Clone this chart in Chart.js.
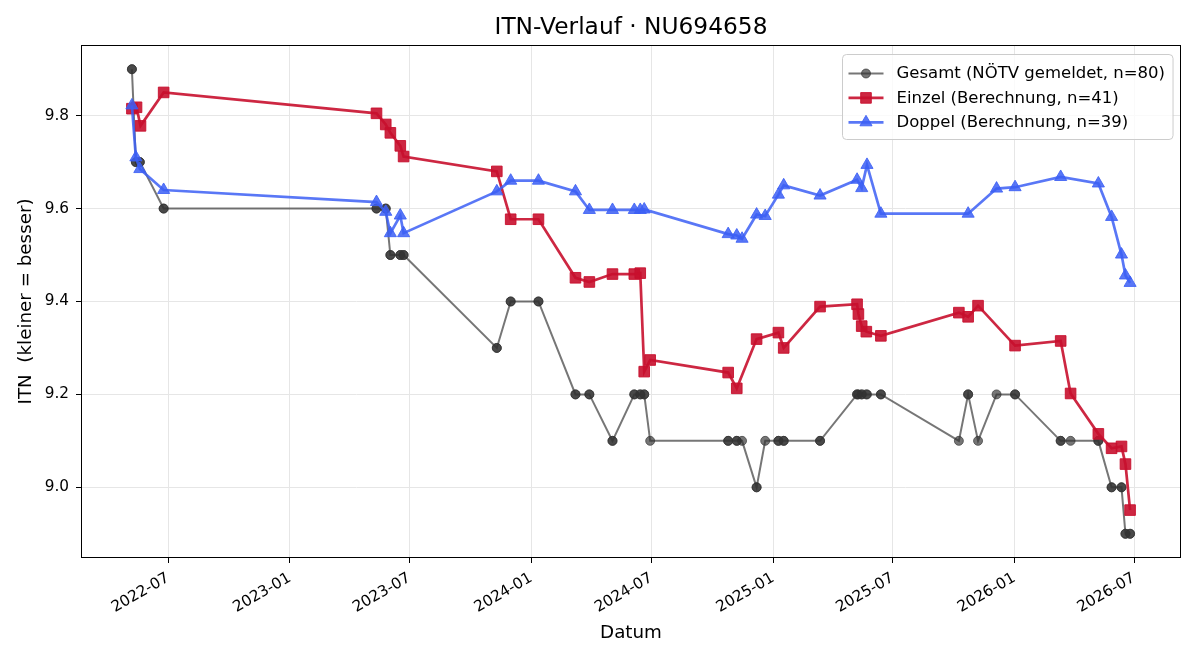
<!DOCTYPE html>
<html>
<head>
<meta charset="utf-8">
<script src="https://cdn.jsdelivr.net/npm/chart.js@4.4.1/dist/chart.umd.min.js"></script>
<style>
html,body{margin:0;padding:0;background:#fff;}
#wrap{width:1200px;height:660px;position:relative;}
</style>
</head>
<body>
<div id="wrap"><canvas id="c" width="1200" height="660"></canvas></div>
<script>
// ---------- DATA ----------
const chartTitle = 'ITN-Verlauf · NU694658';
const xAxisTitle = 'Datum';
const yAxisTitle = 'ITN  (kleiner = besser)';

const gesamtDates = [
 '2022-05-07','2022-05-07','2022-05-13','2022-05-13','2022-05-19','2022-05-19','2022-06-24','2022-06-24',
 '2023-05-12','2023-05-12','2023-05-26','2023-05-26','2023-06-02','2023-06-02','2023-06-17','2023-06-17','2023-06-22','2023-06-22',
 '2023-11-10','2023-11-10','2023-12-01','2023-12-01','2024-01-12','2024-01-12',
 '2024-03-08','2024-03-08','2024-03-29','2024-03-29','2024-05-03','2024-05-03',
 '2024-06-05','2024-06-05','2024-06-14','2024-06-14','2024-06-20','2024-06-20','2024-06-29',
 '2024-10-25','2024-10-25','2024-11-07','2024-11-07','2024-11-15',
 '2024-12-07','2024-12-07','2024-12-20',
 '2025-01-09','2025-01-09','2025-01-17','2025-01-17','2025-03-13','2025-03-13',
 '2025-05-08','2025-05-08','2025-05-10','2025-05-15','2025-05-15','2025-05-22','2025-05-23',
 '2025-06-13','2025-06-13',
 '2025-10-09','2025-10-23','2025-10-23','2025-11-07','2025-12-05',
 '2026-01-02','2026-01-02','2026-03-12','2026-03-12','2026-03-27',
 '2026-05-08','2026-05-08','2026-05-28','2026-05-28','2026-06-12','2026-06-12','2026-06-18','2026-06-18','2026-06-25','2026-06-25'
];
const gesamtValues = [
 9.9,9.9, 9.7,9.7, 9.7,9.7, 9.6,9.6,
 9.6,9.6, 9.6,9.6, 9.5,9.5, 9.5,9.5, 9.5,9.5,
 9.3,9.3, 9.4,9.4, 9.4,9.4,
 9.2,9.2, 9.2,9.2, 9.1,9.1,
 9.2,9.2, 9.2,9.2, 9.2,9.2, 9.1,
 9.1,9.1, 9.1,9.1, 9.1,
 9.0,9.0, 9.1,
 9.1,9.1, 9.1,9.1, 9.1,9.1,
 9.2,9.2, 9.2, 9.2,9.2, 9.2,9.2,
 9.2,9.2,
 9.1, 9.2,9.2, 9.1, 9.2,
 9.2,9.2, 9.1,9.1, 9.1,
 9.1,9.1, 9.0,9.0, 9.0,9.0, 8.9,8.9, 8.9,8.9
];

const einzelDates = [
 '2022-05-07','2022-05-14','2022-05-20','2022-06-24',
 '2023-05-12','2023-05-26','2023-06-02','2023-06-17','2023-06-22',
 '2023-11-10','2023-12-01','2024-01-12','2024-03-08','2024-03-29','2024-05-03',
 '2024-06-05','2024-06-14','2024-06-20','2024-06-29',
 '2024-10-25','2024-11-07','2024-12-07','2025-01-09','2025-01-17','2025-03-13',
 '2025-05-08','2025-05-10','2025-05-15','2025-05-22','2025-06-13',
 '2025-10-09','2025-10-23','2025-11-07','2026-01-02','2026-03-12','2026-03-27',
 '2026-05-08','2026-05-28','2026-06-12','2026-06-18','2026-06-25'
];
const einzelValues = [
 9.815,9.818,9.778,9.850,
 9.805,9.781,9.763,9.735,9.712,
 9.680,9.577,9.577,9.451,9.442,9.459,
 9.459,9.461,9.249,9.274,
 9.247,9.213,9.319,9.333,9.300,9.389,
 9.394,9.373,9.347,9.335,9.326,
 9.376,9.367,9.391,9.305,9.315,9.202,
 9.115,9.084,9.088,9.050,8.951
];

const doppelDates = [
 '2022-05-07','2022-05-13','2022-05-19','2022-06-24',
 '2023-05-12','2023-05-26','2023-06-02','2023-06-17','2023-06-22',
 '2023-11-10','2023-12-01','2024-01-12','2024-03-08','2024-03-29','2024-05-03',
 '2024-06-05','2024-06-14','2024-06-20',
 '2024-10-25','2024-11-07','2024-11-15','2024-12-07','2024-12-20',
 '2025-01-09','2025-01-17','2025-03-13','2025-05-08','2025-05-15','2025-05-23','2025-06-13',
 '2025-10-23','2025-12-05','2026-01-02','2026-03-12',
 '2026-05-08','2026-05-28','2026-06-12','2026-06-18','2026-06-25'
];
const doppelValues = [
 9.822,9.710,9.685,9.640,
 9.614,9.593,9.547,9.585,9.547,
 9.637,9.660,9.660,9.637,9.597,9.597,
 9.597,9.597,9.598,
 9.545,9.542,9.535,9.587,9.584,
 9.630,9.650,9.628,9.662,9.644,9.694,9.589,
 9.589,9.643,9.646,9.668,
 9.654,9.582,9.501,9.456,9.440
];

const xTickLabels = ['2022-07','2023-01','2023-07','2024-01','2024-07','2025-01','2025-07','2026-01','2026-07'];
const yTickValues = [9.0, 9.2, 9.4, 9.6, 9.8];

// ---------- HELPERS ----------
function toMs(s){ const p = s.split('-').map(Number); return Date.UTC(p[0], p[1]-1, p[2] || 1); }
function pts(dates, vals){ return dates.map((d,i)=>({x: toMs(d), y: vals[i]})); }

const allX = [].concat(gesamtDates, einzelDates, doppelDates).map(toMs);
const allY = [].concat(gesamtValues, einzelValues, doppelValues);
const xMinD = Math.min(...allX), xMaxD = Math.max(...allX);
const yMinD = Math.min(...allY), yMaxD = Math.max(...allY);
const xPad = (xMaxD - xMinD) * 0.05, yPad = (yMaxD - yMinD) * 0.05;

const FONT = "'DejaVu Sans', 'Liberation Sans', sans-serif";
Chart.defaults.font.family = FONT;
Chart.defaults.color = '#000';

const GRAY = 'rgba(51,51,51,0.67)';
const RED = 'rgba(200,16,46,0.9)';
const BLUE = 'rgba(60,95,245,0.85)';

const TICK_FS = 15.3, LEGEND_FS = 16.5, LABEL_FS = 18.3, TITLE_FS = 23.3;

function drawMarker(ctx, style, x, y, r){
  ctx.beginPath();
  if (style === 'circle') { ctx.arc(x, y, r, 0, Math.PI*2); }
  else if (style === 'rect') { const s = r*Math.SQRT1_2; ctx.rect(x-s, y-s, 2*s, 2*s); }
  else if (style === 'triangle') {
    ctx.moveTo(x, y - r);
    ctx.lineTo(x + 0.866*r, y + 0.5*r);
    ctx.lineTo(x - 0.866*r, y + 0.5*r);
    ctx.closePath();
  }
  ctx.fill(); ctx.stroke();
}

const framePlugin = {
  id: 'frameAndLegend',
  afterDatasetsDraw(chart){
    const {ctx, chartArea: a} = chart;
    ctx.save();
    // frame
    ctx.strokeStyle = '#000'; ctx.lineWidth = 1;
    const L = Math.round(a.left) - 0.5, T = Math.round(a.top) - 0.5;
    const R = Math.round(a.right) + 0.5, B = Math.round(a.bottom) + 0.5;
    ctx.strokeRect(L, T, R - L, B - T);
    // legend
    ctx.font = LEGEND_FS + 'px ' + FONT;
    const items = chart.data.datasets;
    let maxW = 0;
    items.forEach(ds => { maxW = Math.max(maxW, ctx.measureText(ds.label).width); });
    const boxW = 54 + maxW + 8;
    const boxH = 85;
    const bx = Math.round(a.right - 7 - boxW) + 0.5;
    const by = Math.round(a.top + 8) + 0.5;
    const rr = 4;
    ctx.beginPath();
    ctx.moveTo(bx + rr, by);
    ctx.lineTo(bx + boxW - rr, by); ctx.arcTo(bx + boxW, by, bx + boxW, by + rr, rr);
    ctx.lineTo(bx + boxW, by + boxH - rr); ctx.arcTo(bx + boxW, by + boxH, bx + boxW - rr, by + boxH, rr);
    ctx.lineTo(bx + rr, by + boxH); ctx.arcTo(bx, by + boxH, bx, by + boxH - rr, rr);
    ctx.lineTo(bx, by + rr); ctx.arcTo(bx, by, bx + rr, by, rr);
    ctx.closePath();
    ctx.fillStyle = 'rgba(255,255,255,0.8)'; ctx.fill();
    ctx.strokeStyle = '#cccccc'; ctx.lineWidth = 1; ctx.stroke();
    items.forEach((ds, i) => {
      const cy = by + 19 + i * 24.4;
      const x0 = bx + 6, x1 = bx + 41;
      ctx.strokeStyle = ds.borderColor; ctx.lineWidth = ds.borderWidth;
      ctx.beginPath(); ctx.moveTo(x0, cy); ctx.lineTo(x1, cy); ctx.stroke();
      ctx.fillStyle = ds.pointBackgroundColor; ctx.strokeStyle = ds.pointBorderColor; ctx.lineWidth = 1;
      drawMarker(ctx, ds.pointStyle, (x0 + x1) / 2, cy, ds.pointRadius);
      ctx.fillStyle = '#000'; ctx.textBaseline = 'middle'; ctx.textAlign = 'left';
      ctx.fillText(ds.label, bx + 54, cy + 0.5);
    });
    ctx.restore();
  }
};

new Chart(document.getElementById('c'), {
  type: 'line',
  data: {
    datasets: [
      { label: 'Gesamt (NÖTV gemeldet, n=' + gesamtValues.length + ')', data: pts(gesamtDates, gesamtValues),
        borderColor: GRAY, backgroundColor: GRAY, borderWidth: 2,
        pointStyle: 'circle', pointRadius: 4.5, pointBackgroundColor: GRAY, pointBorderColor: GRAY, pointBorderWidth: 1,
        tension: 0, order: 2 },
      { label: 'Einzel (Berechnung, n=' + einzelValues.length + ')', data: pts(einzelDates, einzelValues),
        borderColor: RED, backgroundColor: RED, borderWidth: 2.7,
        pointStyle: 'rect', pointRadius: 7.5, pointBackgroundColor: RED, pointBorderColor: RED, pointBorderWidth: 1,
        tension: 0, order: 1 },
      { label: 'Doppel (Berechnung, n=' + doppelValues.length + ')', data: pts(doppelDates, doppelValues),
        borderColor: BLUE, backgroundColor: BLUE, borderWidth: 2.7,
        pointStyle: 'triangle', pointRadius: 7, pointBackgroundColor: BLUE, pointBorderColor: BLUE, pointBorderWidth: 1,
        tension: 0, order: 0 }
    ]
  },
  options: {
    responsive: false,
    animation: false,
    devicePixelRatio: 1,
    events: [],
    layout: { padding: { left: 0, right: 20, top: 0, bottom: 0 } },
    plugins: {
      legend: { display: false },
      tooltip: { enabled: false },
      title: { display: true, text: chartTitle, fullSize: false,
        font: { size: TITLE_FS, weight: 'normal', family: FONT }, color: '#000',
        padding: { top: 14, bottom: 4 } }
    },
    scales: {
      x: {
        type: 'linear',
        min: xMinD - xPad, max: xMaxD + xPad,
        afterBuildTicks(scale){ scale.ticks = xTickLabels.map(l => ({ value: toMs(l + '-01') })); },
        afterFit(scale){ scale.height = 103; },
        ticks: { autoSkip: false, minRotation: 30, maxRotation: 30, padding: 6,
          font: { size: TICK_FS, family: FONT }, color: '#000',
          callback: (v, i) => xTickLabels[i] },
        grid: { color: '#e6e6e6', lineWidth: 1, tickLength: 6, tickColor: '#000', drawTicks: true },
        border: { display: false },
        title: { display: true, text: xAxisTitle, font: { size: LABEL_FS, family: FONT }, color: '#000',
          padding: { top: 4, bottom: 16 } }
      },
      y: {
        type: 'linear',
        min: yMinD - yPad, max: yMaxD + yPad,
        afterBuildTicks(scale){ scale.ticks = yTickValues.map(v => ({ value: v })); },
        afterFit(scale){ scale.width = 82; },
        ticks: { padding: 7, font: { size: TICK_FS, family: FONT }, color: '#000',
          callback: (v) => Number(v).toFixed(1) },
        grid: { color: '#e6e6e6', lineWidth: 1, tickLength: 6, tickColor: '#000', drawTicks: true },
        border: { display: false },
        title: { display: true, text: yAxisTitle, font: { size: LABEL_FS, family: FONT }, color: '#000',
          padding: { top: 15, bottom: 4 } }
      }
    }
  },
  plugins: [framePlugin]
});
</script>
</body>
</html>
